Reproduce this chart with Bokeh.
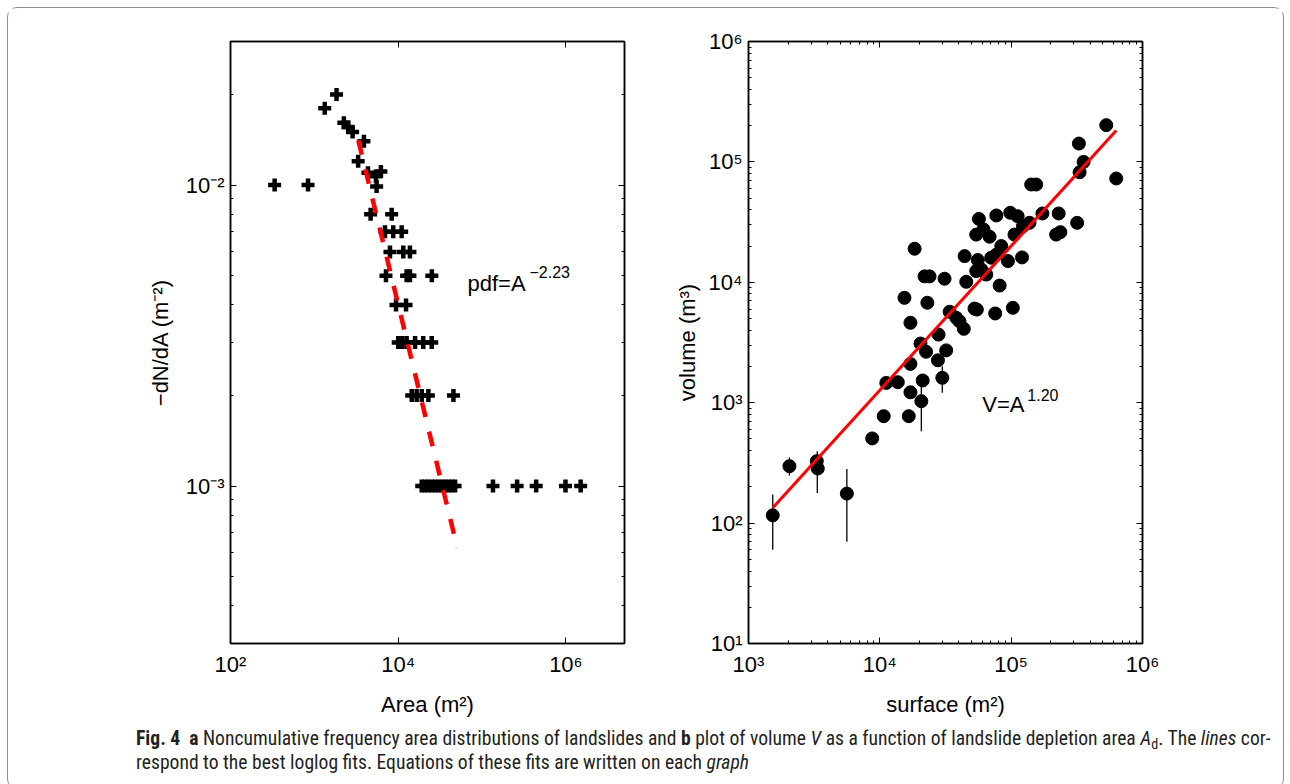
from bokeh.plotting import figure
from bokeh.models import Range1d, FixedTicker, CustomJSTickFormatter, LogAxis, Label, Div
from bokeh.layouts import row, column
from bokeh.embed import file_html
from bokeh.resources import INLINE

# ---------------- Panel a : noncumulative frequency-area distribution ----------------
area_a = [336, 841, 1330, 1840, 2250, 2530, 2860, 3900, 3330,
          4360, 6220, 5420, 5530,
          4690, 8360,
          6950, 8730, 11000,
          7980, 11500, 13800,
          7150, 12600, 13800, 25200,
          9420, 12400,
          10000, 11200, 12600, 15900, 19900, 25100,
          14500, 16600, 19100, 22900, 45600,
          19100, 20900, 22900, 25200, 27500, 30200, 33100, 36300, 39700, 43600, 47700,
          135000, 262000, 442000, 989000, 1500000]
pdf_a = [0.0100, 0.0100, 0.0180, 0.0200, 0.0161, 0.0156, 0.0150, 0.0140, 0.0120,
         0.0110, 0.0111, 0.0107, 0.0099,
         0.0080, 0.0080,
         0.0070, 0.0070, 0.0070,
         0.0060, 0.0060, 0.0060,
         0.0050, 0.0050, 0.0050, 0.0050,
         0.0040, 0.0040,
         0.0030, 0.0030, 0.0030, 0.0030, 0.0030, 0.0030,
         0.0020, 0.0020, 0.0020, 0.0020, 0.0020,
         0.0010, 0.0010, 0.0010, 0.0010, 0.0010, 0.0010, 0.0010, 0.0010, 0.0010, 0.0010, 0.0010,
         0.0010, 0.0010, 0.0010, 0.0010, 0.0010]
fit_a_area = [3340, 50900]
fit_a_pdf = [0.01411, 0.000621]
a_xticks = [1e2, 1e4, 1e6]
a_yticks = [1e-3, 1e-2]

# ---------------- Panel b : volume vs surface ----------------
surf_b = [1530, 2050, 3310, 3370, 5610, 8750, 10700, 16600, 20700, 17100,
          11200, 13700, 21200, 29900, 17100, 27700, 32000, 22500, 20400, 28000,
          17100, 34000, 38200, 40400, 43600, 23000, 15400, 52600, 54800, 75600,
          103000, 81700, 45500, 31100, 21900, 23900, 18400, 44200, 55700, 54200,
          59100, 64600, 70500, 77100, 84100, 94500, 121000, 54200, 61600, 68500,
          56800, 77100, 98400, 112000, 123000, 138000, 106000, 530000, 328000, 356000,
          332000, 631000, 142000, 155000, 173000, 230000, 318000, 220000, 237000]
vol_b = [116, 297, 327, 284, 176, 505, 773, 773, 1030, 1220,
         1460, 1480, 1530, 1610, 2100, 2250, 2720, 2650, 3100, 3680,
         4610, 5690, 5070, 4750, 4110, 6760, 7430, 6050, 5940, 5510,
         6140, 9400, 10100, 10700, 11200, 11200, 19000, 16500, 15300, 12400,
         12800, 11600, 16000, 17000, 20000, 15000, 16100, 24900, 27500, 23900,
         33600, 35900, 37800, 35400, 29200, 31200, 24900, 202000, 142000, 100000,
         82000, 72800, 64900, 64900, 37300, 37300, 31200, 24900, 26100]
err_surf = [1530, 2050, 3340, 5610, 20700, 29900]
err_lo = [60, 248, 178, 70, 580, 1210]
err_hi = [173, 351, 395, 282, 1370, 2010]
fit_b_surf = [1531, 631000]
fit_b_vol = [134, 182000]
b_xticks = [1e3, 1e4, 1e5, 1e6]
b_yticks = [1e1, 1e2, 1e3, 1e4, 1e5, 1e6]

FONT = "Liberation Sans"

SUP_JS = """
const e = Math.round(Math.log10(tick));
const m = {'-':'\\u207b','0':'\\u2070','1':'\\u00b9','2':'\\u00b2','3':'\\u00b3','4':'\\u2074',
           '5':'\\u2075','6':'\\u2076','7':'\\u2077','8':'\\u2078','9':'\\u2079'};
return '10' + String(e).split('').map(c => m[c]).join('');
"""


def minor_for(decades):
    out = []
    for d in decades:
        for k in range(2, 10):
            out.append(k * d)
    return out


def style_axis(ax, labels=True):
    ax.axis_line_color = "black"
    ax.axis_line_width = 1.5
    ax.major_tick_in = 6
    ax.major_tick_out = 0
    ax.minor_tick_in = 3
    ax.minor_tick_out = 0
    ax.major_tick_line_color = "black"
    ax.minor_tick_line_color = "black"
    ax.major_tick_line_width = 1
    ax.minor_tick_line_width = 1
    ax.major_label_text_font = FONT
    ax.major_label_text_font_size = "22px"
    ax.major_label_text_color = "black"
    ax.axis_label_text_font = FONT
    ax.axis_label_text_font_size = "22px"
    ax.axis_label_text_font_style = "normal"
    ax.axis_label_text_color = "black"
    if labels:
        ax.formatter = CustomJSTickFormatter(code=SUP_JS)
    else:
        ax.formatter = CustomJSTickFormatter(code="return '';")
        ax.major_label_standoff = 0


def make_fig(xr, yr, left, right, xt, xminor, yt, yminor, xlabel, ylabel, xstand, ystand):
    p = figure(x_axis_type="log", y_axis_type="log",
               x_range=Range1d(*xr), y_range=Range1d(*yr),
               frame_width=394, frame_height=602,
               min_border_left=left, min_border_right=right,
               min_border_top=33, min_border_bottom=79,
               output_backend="svg", toolbar_location=None,
               background_fill_color="white", border_fill_color="white")
    p.xgrid.grid_line_color = None
    p.ygrid.grid_line_color = None
    p.outline_line_color = "black"
    p.outline_line_width = 1.5
    p.xaxis.ticker = FixedTicker(ticks=xt, minor_ticks=xminor)
    p.yaxis.ticker = FixedTicker(ticks=yt, minor_ticks=yminor)
    for ax in p.xaxis:
        style_axis(ax)
        ax.axis_label = xlabel
        ax.major_label_standoff = 8
        ax.axis_label_standoff = xstand
    for ax in p.yaxis:
        style_axis(ax)
        ax.axis_label = ylabel
        ax.major_label_standoff = 6
        ax.axis_label_standoff = ystand
    top = LogAxis(ticker=FixedTicker(ticks=xt, minor_ticks=xminor))
    style_axis(top, labels=False)
    p.add_layout(top, "above")
    rgt = LogAxis(ticker=FixedTicker(ticks=yt, minor_ticks=yminor))
    style_axis(rgt, labels=False)
    p.add_layout(rgt, "right")
    return p


# ---- figure a ----
pa = make_fig((1e2, 5e6), (3e-4, 3e-2), 222, 36,
              a_xticks, [], a_yticks, minor_for([1e-4, 1e-3]) + [2e-2, 3e-2],
              "Area (m\u00b2)", "\u2212dN/dA (m\u207b\u00b2)", 12, 10)
pa.scatter(area_a, pdf_a, marker="cross", size=13, line_width=4.5, color="black")
pa.line(fit_a_area, fit_a_pdf, line_color="#ff0000", line_width=4.5, line_dash="15 15")
pa.add_layout(Label(x=67000, y=4.7e-3, text="pdf=A", text_font=FONT, text_font_size="22px",
                    text_color="black", text_baseline="alphabetic"))
pa.add_layout(Label(x=67000, y=4.7e-3, x_offset=62, y_offset=12, text="\u22122.23", text_font=FONT,
                    text_font_size="16px", text_color="black", text_baseline="alphabetic"))

# ---- figure b ----
pb = make_fig((1e3, 1e6), (1e1, 1e6), 88, 140,
              b_xticks, minor_for([1e3, 1e4, 1e5]), b_yticks, minor_for([1e1, 1e2, 1e3, 1e4, 1e5]),
              "surface (m\u00b2)", "volume (m\u00b3)", 12, 6)
pb.segment(x0=err_surf, y0=err_lo, x1=err_surf, y1=err_hi, line_color="black", line_width=1.3)
pb.scatter(surf_b, vol_b, marker="circle", size=13, color="black")
pb.line(fit_b_surf, fit_b_vol, line_color="#ff0000", line_width=3)
pb.add_layout(Label(x=60300, y=966, text="V=A", text_font=FONT, text_font_size="22px",
                    text_color="black", text_baseline="alphabetic"))
pb.add_layout(Label(x=60300, y=966, x_offset=45, y_offset=10, text="1.20", text_font=FONT,
                    text_font_size="16px", text_color="black", text_baseline="alphabetic"))

caption_html = (
    "<div style=\"font-family:'Liberation Sans Narrow','Roboto Condensed','DejaVu Sans Condensed',sans-serif;"
    "font-size:19.6px;line-height:24px;color:#231f20;padding-left:123px;white-space:nowrap;\">"
    "<b>Fig. 4</b>&nbsp;&nbsp;<b>a</b> Noncumulative frequency area distributions of landslides and "
    "<b>b</b> plot of volume <i>V</i> as a function of landslide depletion area <i>A</i>"
    "<span style=\"font-size:0.72em;vertical-align:-0.3em;line-height:0;\">d</span>. "
    "The <i>lines</i> cor-<br>respond to the best loglog fits. Equations of these fits are written on each "
    "<i>graph</i></div>"
)
caption = Div(text=caption_html, width=1274, height=56)

layout = column(row(pa, pb), caption, margin=(7, 0, 0, 7), width=1277,
                styles={"border": "1.5px solid #8c8c8c", "border-radius": "10px",
                        "background-color": "white"})

open("out.html", "w").write(file_html(layout, INLINE))
